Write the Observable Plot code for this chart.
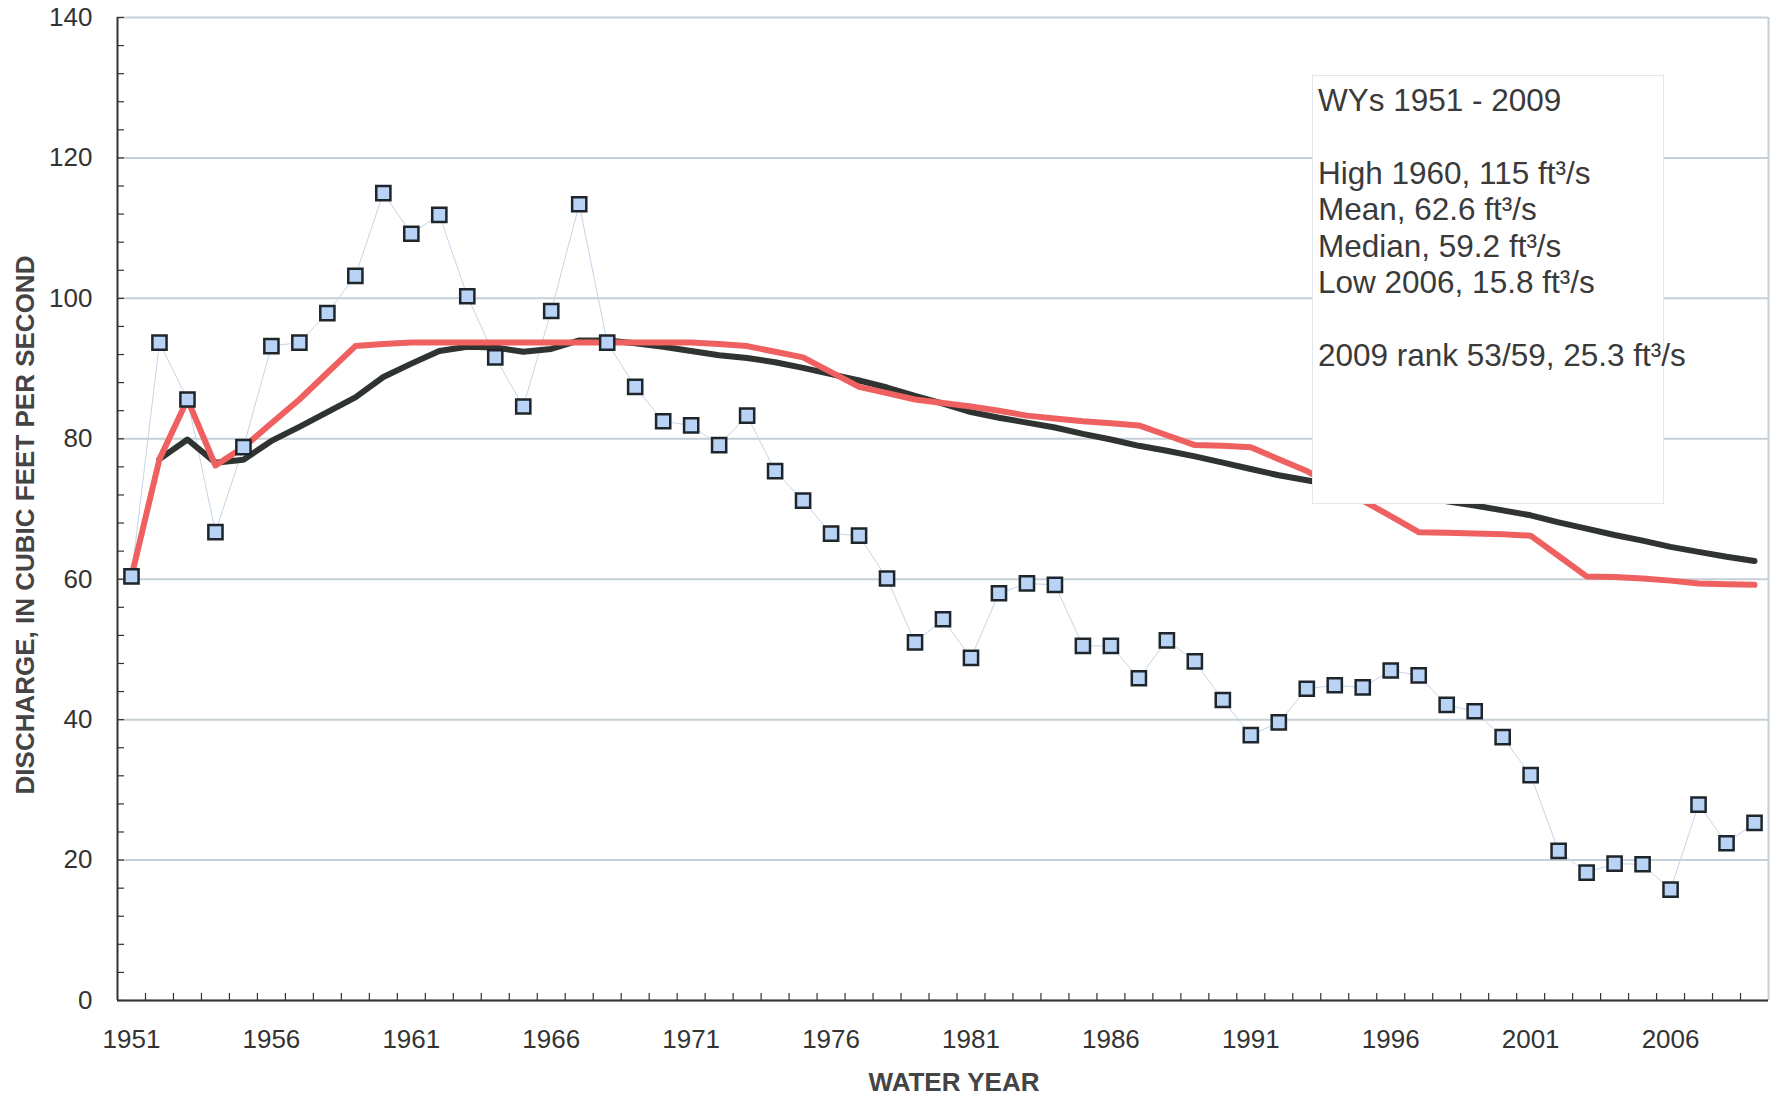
<!DOCTYPE html>
<html>
<head>
<meta charset="utf-8">
<script src="https://cdn.jsdelivr.net/npm/d3@7"></script>
<script src="https://cdn.jsdelivr.net/npm/@observablehq/plot@0.6"></script>
<style>
  html, body { margin: 0; padding: 0; background: #fff; overflow: hidden; }
  #wrap { position: relative; width: 1777px; height: 1098px; }
  #stats {
    position: absolute; left: 1312px; top: 75px; width: 352px; height: 429px;
    box-sizing: border-box; background: #fff; border: 1px solid #e3e7ea;
    font-family: "Liberation Sans", Arial, sans-serif; font-size: 31.5px; line-height: 36.4px;
    color: #3a3a3a; padding: 6px 0 0 5px; white-space: pre;
  }
</style>
</head>
<body>
<div id="wrap"></div>
<script>
// ---- data ----
const years = [1951,1952,1953,1954,1955,1956,1957,1958,1959,1960,
  1961,1962,1963,1964,1965,1966,1967,1968,1969,1970,
  1971,1972,1973,1974,1975,1976,1977,1978,1979,1980,
  1981,1982,1983,1984,1985,1986,1987,1988,1989,1990,
  1991,1992,1993,1994,1995,1996,1997,1998,1999,2000,
  2001,2002,2003,2004,2005,2006,2007,2008,2009];

// annual mean discharge, ft3/s
const discharge = [60.4, 93.7, 85.6, 66.7, 78.8, 93.2, 93.7, 97.9, 103.2, 115.0,
  109.2, 111.9, 100.3, 91.6, 84.6, 98.2, 113.4, 93.7, 87.4, 82.5,
  81.9, 79.1, 83.3, 75.4, 71.2, 66.5, 66.2, 60.1, 51.0, 54.3,
  48.8, 58.0, 59.4, 59.2, 50.5, 50.5, 45.9, 51.3, 48.3, 42.8,
  37.8, 39.6, 44.4, 44.9, 44.6, 47.0, 46.3, 42.1, 41.2, 37.5,
  32.1, 21.3, 18.2, 19.5, 19.4, 15.8, 27.9, 22.4, 25.3];

// black line (period-of-record mean), starts 1952
const meanYears = years.slice(1);
const runningMean = [77.1, 79.9, 76.6, 77.0, 79.7, 81.7, 83.8, 85.9, 88.8,
  90.7, 92.5, 93.1, 93.0, 92.4, 92.8, 94.0, 94.0, 93.6, 93.1,
  92.5, 91.9, 91.5, 90.9, 90.1, 89.2, 88.3, 87.3, 86.1, 85.0,
  83.8, 83.0, 82.3, 81.6, 80.7, 79.9, 79.0, 78.3, 77.5, 76.6,
  75.7, 74.8, 74.1, 73.4, 72.8, 72.2, 71.7, 71.1, 70.5, 69.8,
  69.1, 68.1, 67.2, 66.3, 65.5, 64.6, 63.9, 63.2, 62.6];

// red line (period-of-record median), starts 1951
const runningMedian = [60.4, 77.1, 85.6, 76.2, 78.8, 82.2, 85.6, 89.4, 93.2, 93.5,
  93.7, 93.7, 93.7, 93.7, 93.7, 93.7, 93.7, 93.7, 93.7, 93.7,
  93.7, 93.5, 93.2, 92.4, 91.6, 89.5, 87.4, 86.5, 85.6, 85.1,
  84.6, 84.0, 83.3, 82.9, 82.5, 82.2, 81.9, 80.5, 79.1, 79.0,
  78.8, 77.1, 75.4, 73.3, 71.2, 69.0, 66.7, 66.6, 66.5, 66.4,
  66.2, 63.3, 60.4, 60.3, 60.1, 59.8, 59.4, 59.3, 59.2];

const xLabelTicks = [1951, 1956, 1961, 1966, 1971, 1976, 1981, 1986, 1991, 1996, 2001, 2006];
const yLabelTicks = [0, 20, 40, 60, 80, 100, 120, 140];
const xDomain = [1950.5, 2009.5];
const yDomain = [0, 140];

const yTitle = "DISCHARGE, IN CUBIC FEET PER SECOND";
const xTitle = "WATER YEAR";
const statLines = ["WYs 1951 - 2009", "", "High 1960, 115 ft³/s", "Mean, 62.6 ft³/s",
  "Median, 59.2 ft³/s", "Low 2006, 15.8 ft³/s", "", "2009 rank 53/59, 25.3 ft³/s"];

// ---- build ----
const rows = years.map((year, i) => ({year, q: discharge[i]}));
const meanRows = meanYears.map((year, i) => ({year, v: runningMean[i]}));
const medRows = years.map((year, i) => ({year, v: runningMedian[i]}));
const xMinorTicks = d3.range(xDomain[0] + 1, xDomain[1], 1);
const yMinorTicks = d3.range(yDomain[0], yDomain[1] + 1, 4);

const gridColor = "#c5cfd6";
const axisColor = "#333";

const chart = Plot.plot({
  width: 1777, height: 1098,
  marginLeft: 117, marginRight: 9, marginTop: 17, marginBottom: 98,
  style: {fontFamily: "'Liberation Sans', Arial, sans-serif", background: "white", color: axisColor},
  x: {domain: xDomain, axis: null, label: null},
  y: {domain: yDomain, axis: null, label: null},
  marks: [
    Plot.gridY(yLabelTicks, {stroke: gridColor, strokeWidth: 2, strokeOpacity: 1}),
    Plot.ruleX([xDomain[1]], {stroke: gridColor, strokeWidth: 2}),
    Plot.axisY(yMinorTicks, {tickSize: -7, tickFormat: () => "", label: null, strokeWidth: 1.2}),
    Plot.axisY(yLabelTicks, {tickSize: 0, tickPadding: 25, fontSize: 26, fill: axisColor, label: null}),
    Plot.axisX(xMinorTicks, {tickSize: -7, tickFormat: () => "", label: null, strokeWidth: 1.2}),
    Plot.axisX(xLabelTicks, {tickSize: 0, tickPadding: 29, fontSize: 26, fill: axisColor, tickFormat: d => String(d), label: null}),
    Plot.ruleY([yDomain[0]], {stroke: axisColor, strokeWidth: 2}),
    Plot.ruleX([xDomain[0]], {stroke: axisColor, strokeWidth: 2}),
    Plot.line(rows, {x: "year", y: "q", stroke: "#c4d5e8", strokeWidth: 1}),
    Plot.line(meanRows, {x: "year", y: "v", stroke: "#2f3431", strokeWidth: 6}),
    Plot.line(medRows, {x: "year", y: "v", stroke: "#ef6161", strokeWidth: 6}),
    Plot.dot(rows, {x: "year", y: "q", symbol: "square", r: 8, fill: "#b8d3f5", stroke: "#1f262b", strokeWidth: 2.5}),
    Plot.text([yTitle], {frameAnchor: "left", textAnchor: "middle", lineAnchor: "middle", rotate: -90, dx: -92, dy: 16, fontSize: 26, fontWeight: "bold", fill: "#444"}),
    Plot.text([xTitle], {frameAnchor: "bottom", textAnchor: "middle", lineAnchor: "middle", dx: 11, dy: 82, fontSize: 26, fontWeight: "bold", fill: "#444"})
  ]
});

const wrap = document.getElementById("wrap");
wrap.appendChild(chart);
const box = document.createElement("div");
box.id = "stats";
box.textContent = statLines.join("\n");
wrap.appendChild(box);
</script>
</body>
</html>
